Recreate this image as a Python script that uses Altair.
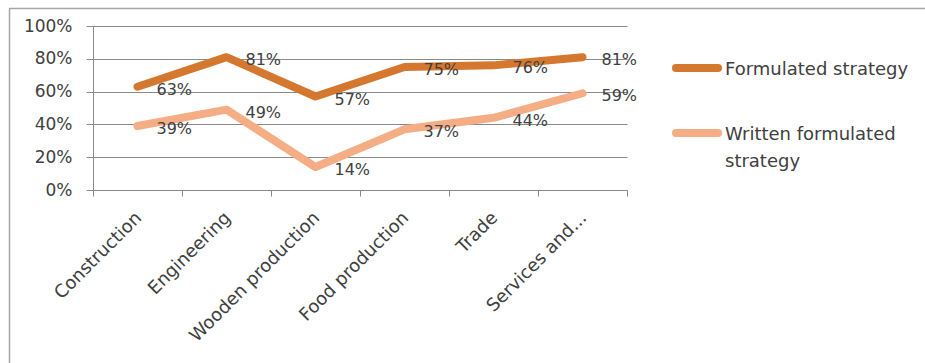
import altair as alt
import pandas as pd

categories = ["Construction", "Engineering", "Wooden production",
              "Food production", "Trade", "Services and..."]
formulated = [0.63, 0.81, 0.57, 0.75, 0.76, 0.81]
written = [0.39, 0.49, 0.14, 0.37, 0.44, 0.59]
series_names = ["Formulated strategy", "Written formulated strategy"]
series_colors = ["#D5782F", "#F4AD84"]
legend_labels = ["Formulated strategy", "Written formulated\nstrategy"]
y_ticks = [0, 0.2, 0.4, 0.6, 0.8, 1.0]

rows = []
for s, vals in zip(series_names, [formulated, written]):
    for c, v in zip(categories, vals):
        rows.append({"category": c, "series": s, "value": v})
df = pd.DataFrame(rows)
leg_df = pd.DataFrame({"series": series_names, "label": legend_labels})
one = pd.DataFrame({"a": [0]})

W, H = 534, 164
FONT = "DejaVu Sans"
GRID = "#8A8A8A"
TXT = "#404040"

x = alt.X(
    "category:N", sort=categories,
    scale=alt.Scale(type="band", paddingInner=0, paddingOuter=0),
    axis=alt.Axis(title=None, labelAngle=-45, labelAlign="right",
                  labelBaseline="middle", labelOffset=1, labelPadding=19,
                  tickSize=6, tickBand="extent", tickColor=GRID,
                  domainColor=GRID, labelFont=FONT, labelFontSize=18,
                  labelColor=TXT, grid=False),
)
y = alt.Y(
    "value:Q", scale=alt.Scale(domain=[0, 1]),
    axis=alt.Axis(title=None, values=y_ticks, format=".0%", tickSize=7,
                  labelPadding=14, tickColor=GRID, domainColor=GRID,
                  gridColor=GRID, labelFont=FONT, labelFontSize=17,
                  labelColor=TXT),
)
color = alt.Color("series:N",
                  scale=alt.Scale(domain=series_names, range=series_colors),
                  legend=None)

lines = alt.Chart(df).mark_line(
    strokeWidth=8, strokeCap="round", strokeJoin="round"
).encode(x=x, y=y, color=color)

labels = alt.Chart(df).mark_text(
    align="left", baseline="middle", dx=19, dy=3, font=FONT, fontSize=16,
    color=TXT
).encode(x=x, y=y, text=alt.Text("value:Q", format=".0%"))

layers = [lines, labels]

sym_y = [42, 107]
txt_y = [44, 109]
for s, sy, ty in zip(series_names, sym_y, txt_y):
    sym = alt.Chart(leg_df).transform_filter(alt.datum.series == s).mark_rule(
        strokeWidth=8, strokeCap="round"
    ).encode(x=alt.value(583), x2=alt.value(625), y=alt.value(sy), color=color)
    txt = alt.Chart(leg_df).transform_filter(alt.datum.series == s).mark_text(
        align="left", baseline="middle", lineBreak="\n", lineHeight=27,
        font=FONT, fontSize=18, color=TXT
    ).encode(x=alt.value(632), y=alt.value(ty), text="label:N")
    layers += [sym, txt]

frame_left = alt.Chart(one).mark_rule(color="#A6A6A6", strokeWidth=1.5).encode(
    x=alt.value(-83.5), y=alt.value(-17.5), y2=alt.value(337))
frame_top = alt.Chart(one).mark_rule(color="#A6A6A6", strokeWidth=1.5).encode(
    x=alt.value(-84), x2=alt.value(832), y=alt.value(-17.5))
layers += [frame_left, frame_top]

chart = alt.layer(*layers).properties(
    width=W, height=H,
    autosize=alt.AutoSizeParams(type="none"),
    padding={"left": 93, "top": 26, "right": 925 - 93 - W, "bottom": 363 - 26 - H},
    background="white",
).configure_view(stroke=None)

chart.save("out.html", embed_options={"renderer": "svg", "actions": False})
